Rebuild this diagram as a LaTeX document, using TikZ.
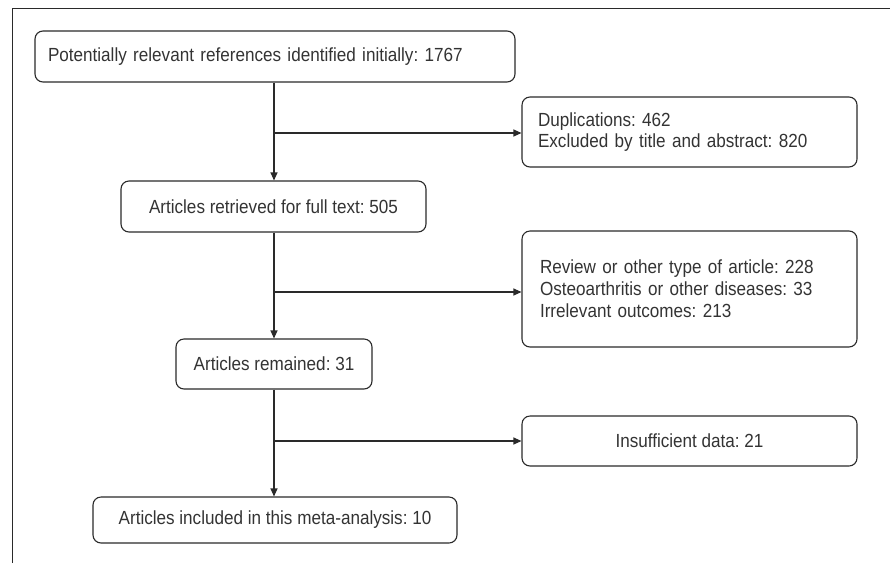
\documentclass[tikz,border=0pt]{standalone}
\usepackage{fontspec}
\setmainfont{Liberation Sans}[FakeStretch=0.9]
\usetikzlibrary{arrows.meta}
\definecolor{ink}{HTML}{2A2A2A}
\definecolor{txt}{HTML}{333333}
\begin{document}
\frenchspacing
\begin{tikzpicture}[x=1pt,y=-1pt,
  box/.style={draw=ink,line width=1.1pt,rounded corners=8pt,inner sep=0pt,
    text=txt,font=\fontsize{19}{21}\selectfont},
  conn/.style={draw=ink,line width=1.1pt},
  arr/.style={conn,-{Triangle[length=8pt,width=7pt]}}]
\useasboundingbox (0,0) rectangle (890,563);
\draw[ink,line width=1pt] (12,563) -- (12,8) -- (890,8);

\node[box,minimum width=480pt,minimum height=51pt,align=left,text width=454pt] (b1) at (275,56.5)
  {Potentially relevant references identified initially: 1767};
\node[box,minimum width=335pt,minimum height=70pt,align=left,text width=303pt] (b2) at (689.5,132)
  {Duplications: 462\\Excluded by title and abstract: 820};
\node[box,minimum width=305pt,minimum height=51pt] (b3) at (273.5,206.5)
  {Articles retrieved for full text: 505};
\node[box,minimum width=335pt,minimum height=116pt,align=left,text width=299pt,
  font=\fontsize{19}{22}\selectfont] (b4) at (689.5,289)
  {Review or other type of article: 228\\Osteoarthritis or other diseases: 33\\Irrelevant outcomes: 213};
\node[box,minimum width=196pt,minimum height=50pt] (b5) at (274,364)
  {Articles remained: 31};
\node[box,minimum width=335pt,minimum height=50pt] (b6) at (689.5,441)
  {Insufficient data: 21};
\node[box,minimum width=364pt,minimum height=46pt] (b7) at (275,520)
  {Articles included in this meta-analysis: 10};

\coordinate (j1) at (274,133);
\coordinate (j2) at (274,292);
\coordinate (j3) at (274,441);

\draw[arr] (b1.south -| j1) -- (b3.north -| j1);
\draw[arr] (j1) -- (j1 -| b2.west);
\draw[arr] (b3.south -| j2) -- (b5.north -| j2);
\draw[arr] (j2) -- (j2 -| b4.west);
\draw[arr] (b5.south -| j3) -- (b7.north -| j3);
\draw[arr] (j3) -- (j3 -| b6.west);
\end{tikzpicture}
\end{document}
